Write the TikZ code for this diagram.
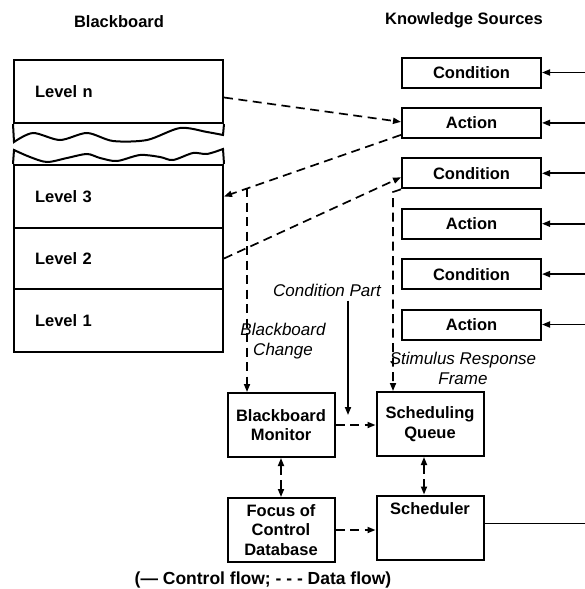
\documentclass[tikz,border=0pt]{standalone}
\usepackage{fontspec}
\setmainfont{Liberation Sans}
\usetikzlibrary{arrows.meta}
\usetikzlibrary{calc}
\usetikzlibrary{positioning}

\begin{document}
\begin{tikzpicture}[x=1pt, y=-1pt, >={Triangle[length=8pt,width=6pt]},
  node distance = 50.4pt, on grid, line width=2pt,
  font=\fontsize{16.5}{19.8}\selectfont\bfseries,
  level/.style ={draw, minimum width=209pt, text width=167pt, inner xsep=21pt, align=left},
  ks/.style ={draw, minimum width=139pt, minimum height=30pt},
  unit/.style ={draw, minimum width=107pt, minimum height=64pt, align=center, inner sep=2pt},
  data/.style ={dash pattern=on 9pt off 5.5pt, line width=1.7pt},
  ctrl/.style ={line width=1.7pt},
  note/.style ={font=\fontsize{17}{20}\selectfont\itshape, align=center}]
\useasboundingbox (0,0) rectangle (585,589);

% titles
\node (bbt) at (119,22) {Blackboard};
\node (kst) at (464,20) {Knowledge Sources};

% blackboard levels
\node[level, minimum height=63pt] (lvn) at (118.5,91.5) {Level n};
\node[level, minimum height=63pt] (lv3) at (118.5,196.5) {Level 3};
\node[level, minimum height=61pt] (lv2) at (118.5,258.5) {Level 2};
\node[level, minimum height=63pt] (lv1) at (118.5,320.5) {Level 1};
% torn part
\draw (lvn.south west) -- plot[smooth] coordinates {(14,142) (33,133) (60,140) (87,133) (113,141)
      (147,140) (180,128) (207,132) (223,135)} -- (lvn.south east);
\draw (lv3.north west) -- plot[smooth] coordinates {(14,150) (30,157) (47,162) (67,158) (87,154)
      (100,158) (117,161) (140,155) (160,157) (173,160) (193,153) (207,154) (223,149)} -- (lv3.north east);

% knowledge sources
\node[ks] (c1) at (471.5,72.5) {Condition};
\node[ks, below=of c1] (a1) {Action};
\node[ks, below=of a1] (c2) {Condition};
\node[ks, below=of c2] (a2) {Action};
\node[ks, below=of a2] (c3) {Condition};
\node[ks, below=of c3] (a3) {Action};

% control part
\node[unit] (bm) at (281,425) {Blackboard\\Monitor};
\node[unit] (sq) at (430,424) {Scheduling\\Queue};
\node[unit] (fcd) at (281,530) {Focus of\\Control\\Database};
\node[unit, text depth=38pt] (sch) at (430,527.5) {Scheduler};

\node[note] (cp) at (327,290) {Condition Part};
\node[note] (bch) at (283,341) {Blackboard\\Change};
\node[note] (srf) at (463,368) {Stimulus Response\\Frame};

\node[font=\fontsize{17.5}{20}\selectfont\bfseries] (key) at (263,580) {(\textemdash\ Control flow; - - - Data flow)};

\coordinate (rim) at (585,0);
\coordinate (bc) at (247,188);
\coordinate (sr) at (393,192);
\coordinate (cpx) at (348,415);

\foreach \k in {c1,a1,c2,a2,c3,a3}
  \draw[ctrl,<-] (\k.east) -- (\k.east -| rim);

\path[data,->]
    ($(lvn.east)+(0,6)$) edge ($(a1.west)+(0,-1)$)
    ($(a1.south west)+(0,-4)$) edge (lv3.east)
    (lv2.east) edge ($(c2.west)+(0,4)$)
    (bm.east) edge (bm.east -| sq.west)
    (fcd.east) edge (fcd.east -| sch.west);
\draw[data,->] (bc) -- (bc |- bm.north);
\draw[data,->] (c2.south west) -- (sr) -- (sr |- sq.north);
\draw[data,<->] (bm.south) -- (fcd.north);
\draw[data,<->] ([xshift=-6pt]sq.south) -- ([xshift=-6pt]sq.south |- sch.north);
\draw[ctrl,->] (cpx |- cp.south) -- (cpx);
\draw[ctrl] ([yshift=4pt]sch.east) -- ([yshift=4pt]sch.east -| rim);
\end{tikzpicture}
\end{document}
